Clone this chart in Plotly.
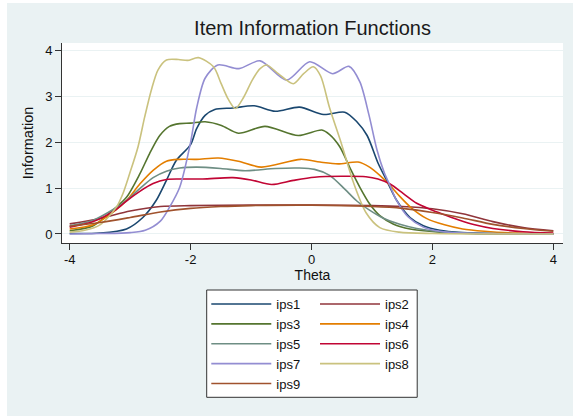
import plotly.graph_objects as go

# ---- data (theta, information) ----
ips1_theta = [-4, -3.5, -3.06, -2.79, -2.57, -2.4, -2.24, -2.0, -1.9, -1.76, -1.6, -1.3, -0.95, -0.6, -0.2, 0.2, 0.55, 0.75, 0.92, 1.1, 1.25, 1.41, 1.63, 1.85, 2.12, 2.5, 3.0, 4.0]
ips1_info = [0.01, 0.02, 0.11, 0.36, 0.73, 1.17, 1.6, 1.95, 2.3, 2.59, 2.72, 2.75, 2.8, 2.68, 2.77, 2.61, 2.66, 2.45, 2.15, 1.55, 1.15, 0.73, 0.36, 0.18, 0.08, 0.03, 0.01, 0.0]

ips2_theta = [-4, -3.5, -3.0, -2.5, -2.0, -1.0, 0.0, 1.0, 1.5, 2.0, 2.5, 3.0, 3.5, 4.0]
ips2_info = [0.22, 0.34, 0.5, 0.6, 0.62, 0.63, 0.63, 0.62, 0.6, 0.55, 0.44, 0.27, 0.14, 0.07]

ips3_theta = [-4, -3.61, -3.26, -3.06, -2.84, -2.68, -2.51, -2.35, -2.18, -2.0, -1.76, -1.49, -1.21, -0.77, -0.22, 0.17, 0.3, 0.47, 0.63, 0.8, 0.96, 1.13, 1.35, 1.63, 2.12, 2.6, 4.0]
ips3_info = [0.07, 0.18, 0.55, 0.8, 1.31, 1.75, 2.15, 2.35, 2.41, 2.42, 2.45, 2.37, 2.2, 2.35, 2.15, 2.27, 2.17, 1.9, 1.46, 1.02, 0.66, 0.4, 0.22, 0.11, 0.04, 0.01, 0.0]

ips4_theta = [-4, -3.61, -3.26, -3.06, -2.84, -2.62, -2.4, -2.18, -1.9, -1.54, -1.21, -0.83, -0.18, 0.14, 0.44, 0.77, 0.96, 1.13, 1.3, 1.46, 1.65, 1.9, 2.2, 2.5, 2.86, 3.4, 4.0]
ips4_info = [0.11, 0.2, 0.5, 0.73, 1.09, 1.39, 1.59, 1.63, 1.63, 1.66, 1.59, 1.46, 1.63, 1.57, 1.53, 1.57, 1.46, 1.28, 1.06, 0.82, 0.57, 0.34, 0.2, 0.11, 0.06, 0.02, 0.01]

ips5_theta = [-4, -3.61, -3.26, -3.06, -2.84, -2.62, -2.4, -2.18, -1.9, -1.5, -1.1, -0.6, -0.2, 0.05, 0.3, 0.55, 0.75, 0.96, 1.18, 1.46, 1.74, 2.12, 2.6, 4.0]
ips5_info = [0.18, 0.3, 0.55, 0.73, 0.99, 1.23, 1.37, 1.44, 1.46, 1.43, 1.38, 1.43, 1.44, 1.41, 1.28, 0.98, 0.72, 0.52, 0.35, 0.21, 0.12, 0.05, 0.02, 0.0]

ips6_theta = [-4, -3.61, -3.26, -3.06, -2.84, -2.62, -2.4, -2.18, -1.8, -1.3, -1.0, -0.66, -0.3, 0.05, 0.5, 0.9, 1.1, 1.3, 1.52, 1.74, 1.98, 2.2, 2.45, 2.7, 3.0, 3.5, 4.0]
ips6_info = [0.15, 0.27, 0.51, 0.72, 0.93, 1.1, 1.19, 1.2, 1.2, 1.23, 1.18, 1.08, 1.17, 1.24, 1.26, 1.25, 1.2, 1.09, 0.88, 0.67, 0.53, 0.42, 0.3, 0.2, 0.12, 0.05, 0.02]

ips7_theta = [-4, -3.5, -3.0, -2.75, -2.5, -2.35, -2.18, -2.0, -1.9, -1.76, -1.55, -1.2, -0.85, -0.41, -0.03, 0.35, 0.62, 0.8, 0.95, 1.08, 1.2, 1.3, 1.4, 1.6, 1.85, 2.12, 2.5, 4.0]
ips7_info = [0.0, 0.01, 0.03, 0.08, 0.28, 0.58, 1.02, 2.0, 2.75, 3.4, 3.69, 3.61, 3.78, 3.36, 3.76, 3.5, 3.66, 3.32, 2.6, 1.85, 1.35, 1.05, 0.75, 0.37, 0.15, 0.06, 0.02, 0.0]

ips8_theta = [-4, -3.75, -3.5, -3.23, -3.12, -3.01, -2.87, -2.76, -2.65, -2.54, -2.4, -2.2, -2.05, -1.87, -1.62, -1.5, -1.38, -1.26, -1.12, -0.98, -0.85, -0.74, -0.55, -0.3, -0.13, 0.03, 0.15, 0.3, 0.5, 0.7, 0.9, 1.13, 1.45, 2.0, 4.0]
ips8_info = [0.04, 0.08, 0.2, 0.58, 0.88, 1.31, 1.9, 2.55, 3.14, 3.58, 3.8, 3.81, 3.79, 3.85, 3.65, 3.3, 2.95, 2.74, 2.99, 3.36, 3.61, 3.69, 3.5, 3.28, 3.5, 3.65, 3.45, 2.75, 1.95, 1.1, 0.47, 0.14, 0.04, 0.01, 0.0]

ips9_theta = [-4, -3.5, -3.0, -2.5, -2.0, -1.5, -1.0, 0.0, 1.0, 1.5, 2.0, 2.5, 3.0, 3.5, 4.0]
ips9_info = [0.17, 0.25, 0.36, 0.48, 0.56, 0.6, 0.62, 0.63, 0.6, 0.56, 0.47, 0.35, 0.21, 0.12, 0.06]

series_names = ["ips1", "ips2", "ips3", "ips4", "ips5", "ips6", "ips7", "ips8", "ips9"]
series_theta = [ips1_theta, ips2_theta, ips3_theta, ips4_theta, ips5_theta, ips6_theta, ips7_theta, ips8_theta, ips9_theta]
series_info = [ips1_info, ips2_info, ips3_info, ips4_info, ips5_info, ips6_info, ips7_info, ips8_info, ips9_info]
series_colors = ["#1A476F", "#90353B", "#55752F", "#E37E00", "#6E8E84",
                 "#C10534", "#938DD2", "#CAC27E", "#A0522D"]

x_ticks = [-4, -2, 0, 2, 4]
x_ticktext = ["-4", "-2", "0", "2", "4"]
y_ticks = [0, 1, 2, 3, 4]

FONT = "Liberation Sans, Arial, sans-serif"
BG = "#EAF2F3"

fig = go.Figure()
for i, (name, th, inf, col) in enumerate(zip(series_names, series_theta, series_info, series_colors)):
    fig.add_trace(go.Scatter(
        x=th, y=inf, name=name, mode="lines",
        line=dict(color=col, width=1.6, shape="spline", smoothing=0.8),
        legend="legend" if i % 2 == 0 else "legend2",
    ))

legend_common = dict(
    orientation="v", bgcolor="rgba(0,0,0,0)", borderwidth=0,
    font=dict(family=FONT, size=13, color="#111"),
    itemwidth=60, tracegroupgap=0, yanchor="top", xanchor="left",
)

fig.update_layout(
    width=566, height=413,
    margin=dict(l=55, r=10, t=40, b=173, autoexpand=False),
    paper_bgcolor=BG, plot_bgcolor="white",
    font=dict(family=FONT, size=13, color="#111"),
    title=dict(text="Item Information Functions", x=0.5, xref="paper",
               y=1 - 25 / 413, yref="container", yanchor="middle", xanchor="center",
               font=dict(family=FONT, size=20, color="#1a1a1a")),
    xaxis=dict(range=[-4.127, 4.16], tickmode="array", tickvals=x_ticks, ticktext=x_ticktext,
               showgrid=False, zeroline=False, showline=True, linecolor="#333", linewidth=1,
               ticks="outside", ticklen=6, tickcolor="#333", ticklabelstandoff=-2,
               tickfont=dict(size=13, color="#111"),
               title=dict(text="Theta", font=dict(size=14, color="#111"), standoff=0)),
    yaxis=dict(range=[-0.197, 4.17], tickmode="array", tickvals=y_ticks,
               showgrid=True, gridcolor=BG, gridwidth=1, zeroline=False,
               showline=True, linecolor="#333", linewidth=1,
               ticks="outside", ticklen=6, tickcolor="#333",
               tickfont=dict(size=13, color="#111"),
               title=dict(text="Information", font=dict(size=14.5, color="#111"), standoff=8)),
    legend=dict(x=0.288, y=-0.23, **legend_common),
    legend2=dict(x=0.505, y=-0.23, **legend_common),
    showlegend=True,
    shapes=[
        dict(type="rect", xref="paper", yref="paper", x0=0.2888, x1=0.709, y0=-0.7715, y1=-0.235,
             line=dict(color="#333", width=1), fillcolor="white", layer="below"),
    ],
)

fig.write_html(
    "out.html",
    post_script="document.body.style.margin='3px 0 0 7px';"
                "document.body.style.overflow='hidden';"
                "document.documentElement.style.overflow='hidden';",
)
